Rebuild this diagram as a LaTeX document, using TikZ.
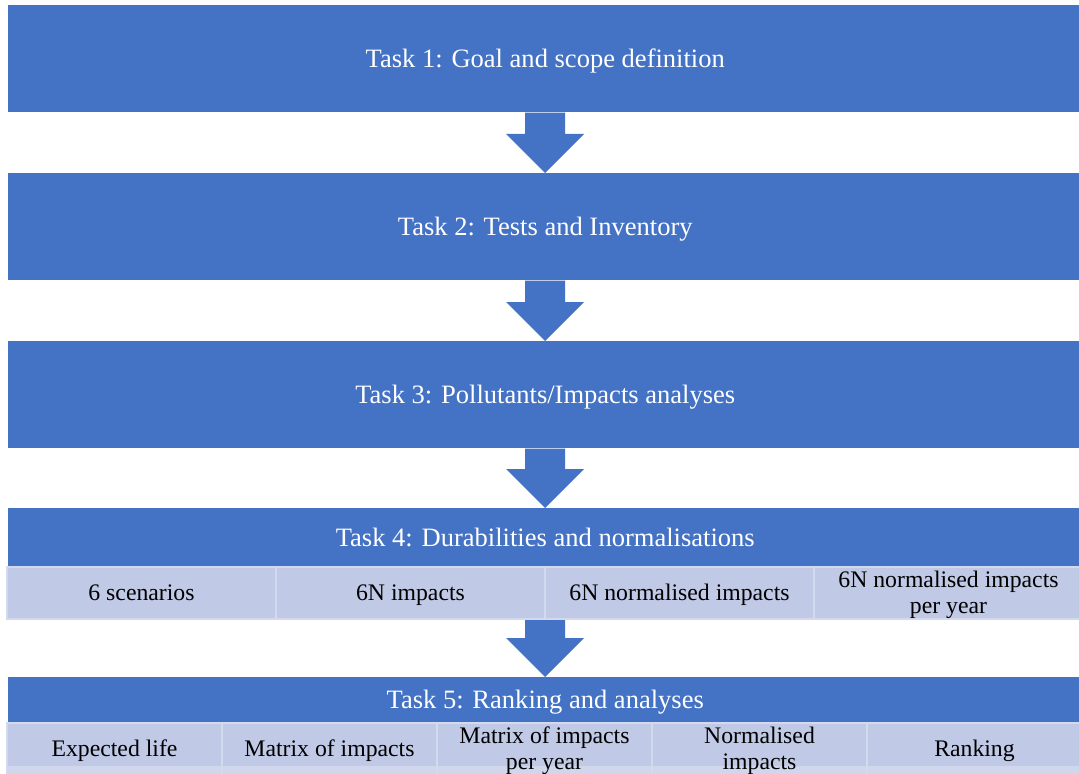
\documentclass[tikz,border=0pt]{standalone}
\usepackage{fontspec}
\setmainfont{Liberation Serif}
\usetikzlibrary{calc}
\definecolor{taskblue}{RGB}{68,114,196}
\definecolor{cellfill}{RGB}{192,201,229}
\definecolor{cellline}{RGB}{212,218,238}
\definecolor{bandfill}{RGB}{208,214,235}
\newcommand\lstrut{\rule[-0.2\baselineskip]{0pt}{\baselineskip}}
\newcommand\blockarrowdown[2]{%
  \fill[taskblue] ($(#1)+(-20,0)$) -- ($(#2)+(-20,-39)$) -- ($(#2)+(-39,-39)$) -- (#2)
    -- ($(#2)+(39,-39)$) -- ($(#2)+(20,-39)$) -- ($(#1)+(20,0)$) -- cycle;}
\begin{document}
\begin{tikzpicture}[x=0.75pt,y=-0.75pt,
  taskbox/.style={fill=taskblue, text=white, inner sep=0pt, anchor=north west,
    minimum width=1074*0.75pt, minimum height=107*0.75pt,
    font=\fontsize{19.9}{22}\selectfont},
  taskhead/.style={taskbox, minimum height=#1*0.75pt},
  cellfour/.style={fill=cellfill, draw=cellline, line width=1.5pt, inner sep=0pt,
    anchor=north west, minimum width=269*0.75pt, minimum height=52*0.75pt,
    align=center, font=\fontsize{17.8}{19}\selectfont},
  cellfive/.style={cellfour, minimum width=215*0.75pt,
    path picture={\fill[bandfill] ($(path picture bounding box.south west)+(0,-9)$)
      rectangle (path picture bounding box.south east);}},
]
\useasboundingbox (0,0) rectangle (1079,774);
\fill[white] (0,0) rectangle (1079,774);
\begin{scope}
\clip (0,0) rectangle (1079,774);
% main task boxes
\node[taskbox] (t1) at (8,5) {\lstrut Task 1: Goal and scope definition};
\node[taskbox] (t2) at (8,173) {\lstrut Task 2: Tests and Inventory};
\node[taskbox] (t3) at (8,341) {\lstrut Task 3: Pollutants/Impacts analyses};
% task 4
\node[taskhead=58] (t4h) at (8,508) {\lstrut Task 4: Durabilities and normalisations};
\node[cellfour] (t4a) at (6,566) {\lstrut 6 scenarios};
\node[cellfour] (t4b) at (275,566) {\lstrut 6N impacts};
\node[cellfour] (t4c) at (544,566) {\lstrut 6N normalised impacts};
\node[cellfour] (t4d) at (813,566) {\lstrut 6N normalised impacts\\\lstrut per year};
% task 5
\node[taskhead=45] (t5h) at (8,677) {\lstrut Task 5: Ranking and analyses};
\node[cellfive] (t5a) at (6,722) {\lstrut Expected life};
\node[cellfive] (t5b) at (221,722) {\lstrut Matrix of impacts};
\node[cellfive] (t5c) at (436,722) {\lstrut Matrix of impacts\\\lstrut per year};
\node[cellfive] (t5d) at (651,722) {\lstrut Normalised\\\lstrut impacts};
\node[cellfive] (t5e) at (866,722) {\lstrut Ranking};
% arrows
\coordinate (a1s) at (545,0 |- t1.south);
\coordinate (a1e) at (545,0 |- t2.north);
\coordinate (a2s) at (545,0 |- t2.south);
\coordinate (a2e) at (545,0 |- t3.north);
\coordinate (a3s) at (545,0 |- t3.south);
\coordinate (a3e) at (545,0 |- t4h.north);
\coordinate (a4s) at (545,0 |- t4a.south);
\coordinate (a4e) at (545,0 |- t5h.north);
\blockarrowdown{a1s}{a1e}
\blockarrowdown{a2s}{a2e}
\blockarrowdown{a3s}{a3e}
\blockarrowdown{a4s}{a4e}
\end{scope}
\end{tikzpicture}
\end{document}
